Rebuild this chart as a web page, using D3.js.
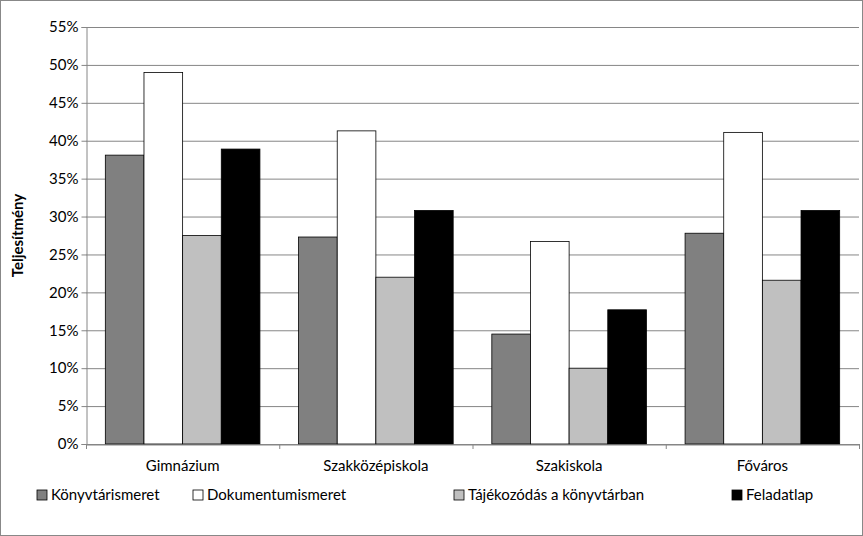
<!DOCTYPE html><html><head><meta charset="utf-8"><script src="https://cdn.jsdelivr.net/npm/d3@7"></script>
<style>body{margin:0;background:#fff}text{font-family:Lato,"Open Sans",sans-serif;fill:#000}</style></head><body>
<svg id="c" width="863" height="536"></svg>
<script>
const categories=["Gimnázium","Szakközépiskola","Szakiskola","Főváros"];
const seriesNames=["Könyvtárismeret","Dokumentumismeret","Tájékozódás a könyvtárban","Feladatlap"];
const colors=["#808080","#ffffff","#c0c0c0","#000000"];
const konyvtar=[38.1,27.3,14.5,27.8];
const dokumentum=[49.0,41.3,26.7,41.1];
const tajekozodas=[27.5,22.0,10.0,21.6];
const feladatlap=[38.9,30.8,17.7,30.8];
const yTicks=[0,5,10,15,20,25,30,35,40,45,50,55];
const series=[konyvtar,dokumentum,tajekozodas,feladatlap];
const svg=d3.select("#c");
svg.append("rect").attr("x",0.5).attr("y",0.5).attr("width",862).attr("height",535).attr("fill","none").attr("stroke","#888");
const L=86,R=859,T=27,B=444;
const x=d3.scaleBand().domain(categories).range([L,R]);
const y=d3.scaleLinear().domain([0,55]).range([B,T]);
const xi=d3.scaleBand().domain(d3.range(4)).range([0,x.bandwidth()]).paddingOuter(0.5).paddingInner(0);
svg.append("g").selectAll("line").data(yTicks).join("line").attr("x1",L).attr("x2",R).attr("y1",d=>y(d)+0.5).attr("y2",d=>y(d)+0.5).attr("stroke","#868686");
series.forEach((s,i)=>{
svg.append("g").selectAll("rect").data(s).join("rect")
.attr("x",(d,j)=>x(categories[j])+xi(i)).attr("width",xi.bandwidth())
.attr("y",d=>y(d)).attr("height",d=>B-y(d)).attr("fill",colors[i]).attr("stroke","#000").attr("stroke-width",0.8);
});
const ya=svg.append("g").attr("transform",`translate(${L+0.5},0)`).call(d3.axisLeft(y).tickValues(yTicks).tickFormat(d=>d+"%").tickSize(5));
ya.select(".domain").attr("stroke","#868686");ya.selectAll("line").attr("stroke","#868686");
ya.selectAll("text").style("font-size","15px").attr("x",-8);
const xa=svg.append("g").attr("transform",`translate(0,${B+0.5})`).call(d3.axisBottom(x).tickSize(0).tickPadding(16));
xa.select(".domain").attr("stroke","#868686");
xa.selectAll("text").style("font-size","15px");
svg.append("g").selectAll("line").data(d3.range(5)).join("line").attr("x1",d=>L+d*x.step()+0.5).attr("x2",d=>L+d*x.step()+0.5).attr("y1",B).attr("y2",B+5).attr("stroke","#868686");
svg.append("text").attr("transform",`translate(23,${(T+B)/2}) rotate(-90)`).attr("text-anchor","middle").style("font-size","15px").style("font-weight","bold").text("Teljesítmény");
const lx=[37,193,454,732];
seriesNames.forEach((n,i)=>{
const g=svg.append("g").attr("transform",`translate(${lx[i]},490)`);
g.append("rect").attr("width",10).attr("height",10).attr("fill",colors[i]).attr("stroke","#000").attr("stroke-width",0.8);
g.append("text").attr("x",14).attr("y",10).style("font-size","15px").text(n);
});
</script></body></html>
